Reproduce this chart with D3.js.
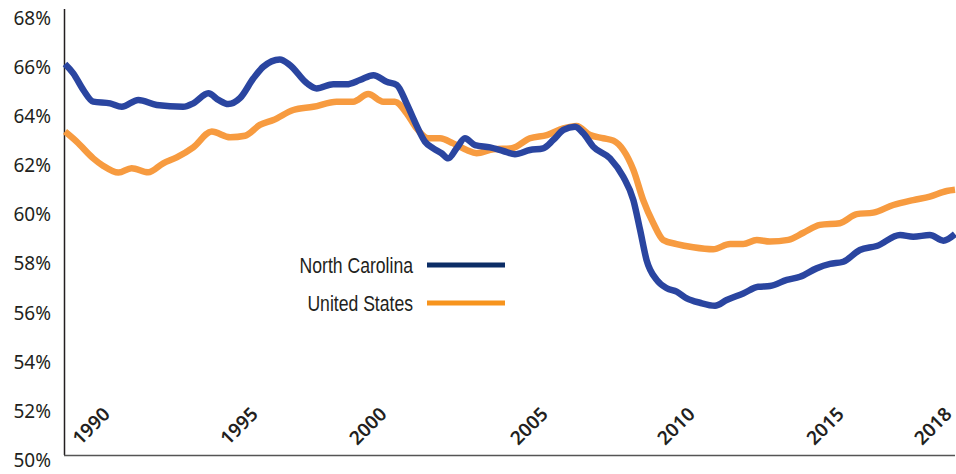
<!DOCTYPE html>
<html>
<head>
<meta charset="utf-8">
<script src="https://cdn.jsdelivr.net/npm/d3@7"></script>
<style>
  body { margin: 0; background: #fff; }
  svg { display: block; }
</style>
</head>
<body>
<svg id="chart"></svg>
<script>
// values (fractional years, percent)
var ncYears = [1990.00, 1990.27, 1990.60, 1990.92, 1991.47, 1991.85, 1992.39, 1992.99, 1993.85, 1994.18,
  1994.67, 1995.00, 1995.32, 1995.70, 1996.14, 1996.46, 1997.00, 1997.33, 1997.88, 1998.20,
  1998.74, 1999.18, 1999.61, 2000.05, 2000.48, 2000.81, 2001.13, 2001.40, 2001.73, 2002.00,
  2002.27, 2002.49, 2002.76, 2003.03, 2003.36, 2003.85, 2004.28, 2004.66, 2005.15, 2005.58,
  2005.91, 2006.24, 2006.62, 2006.89, 2007.21, 2007.76, 2008.19, 2008.52, 2008.74, 2008.95,
  2009.28, 2009.61, 2009.93, 2010.26, 2010.69, 2011.18, 2011.56, 2012.10, 2012.59, 2012.97,
  2013.52, 2013.95, 2014.49, 2014.93, 2015.36, 2015.90, 2016.45, 2017.21, 2017.64, 2018.18,
  2018.62, 2019.00];
var ncValues = [65.92, 65.54, 64.86, 64.39, 64.32, 64.18, 64.46, 64.25, 64.18, 64.32,
  64.73, 64.46, 64.29, 64.53, 65.34, 65.81, 66.11, 65.88, 65.14, 64.93,
  65.10, 65.10, 65.27, 65.47, 65.20, 65.07, 64.32, 63.57, 62.76, 62.49,
  62.29, 62.08, 62.49, 62.90, 62.62, 62.53, 62.38, 62.25, 62.42, 62.49,
  62.83, 63.24, 63.37, 63.10, 62.56, 62.08, 61.33, 60.38, 59.16, 57.94,
  57.13, 56.79, 56.65, 56.38, 56.20, 56.08, 56.31, 56.58, 56.85, 56.88,
  57.13, 57.26, 57.60, 57.78, 57.87, 58.35, 58.51, 58.96, 58.89, 58.96,
  58.73, 59.00];

var usYears = [1990.00, 1990.38, 1990.92, 1991.25, 1991.74, 1992.17, 1992.71, 1993.20, 1993.64, 1994.18,
  1994.78, 1995.38, 1995.87, 1996.35, 1996.79, 1997.44, 1998.09, 1998.85, 1999.39, 1999.88,
  2000.37, 2000.75, 2001.13, 2001.46, 2001.84, 2002.22, 2002.65, 2003.09, 2003.41, 2003.96,
  2004.56, 2005.15, 2005.70, 2006.24, 2006.67, 2007.11, 2007.54, 2007.87, 2008.19, 2008.52,
  2008.84, 2009.17, 2009.49, 2009.93, 2010.47, 2011.12, 2011.67, 2012.10, 2012.54, 2012.97,
  2013.57, 2014.06, 2014.60, 2015.25, 2015.80, 2016.34, 2016.99, 2017.64, 2018.18, 2018.73,
  2019.00];
var usValues = [63.17, 62.76, 62.08, 61.77, 61.50, 61.68, 61.51, 61.88, 62.12, 62.53,
  63.17, 62.94, 63.00, 63.44, 63.64, 64.05, 64.18, 64.39, 64.39, 64.70,
  64.39, 64.39, 63.92, 63.30, 62.90, 62.90, 62.69, 62.42, 62.29, 62.45,
  62.49, 62.90, 63.03, 63.30, 63.40, 63.03, 62.90, 62.80, 62.42, 61.61,
  60.38, 59.44, 58.76, 58.59, 58.46, 58.38, 58.59, 58.59, 58.76, 58.69,
  58.76, 59.05, 59.37, 59.44, 59.81, 59.87, 60.18, 60.38, 60.52, 60.75,
  60.80];

var tickLabels = ['1990', '1995', '2000', '2005', '2010', '2015', '2018'];
var tickAt = [1990.85, 1995.67, 1999.87, 2005.12, 2009.91, 2014.77, 2018.28];
var yTicks = [50, 52, 54, 56, 58, 60, 62, 64, 66, 68];

var seriesNames = ['North Carolina', 'United States'];

var W = 956, H = 474;
var margin = {top: 13, right: 955, bottom: 455, left: 65};

var svg = d3.select('#chart').attr('width', W).attr('height', H);

var x = d3.scaleLinear().domain([1990, 2019]).range([margin.left, margin.right]);
var y = d3.scaleLinear().domain([50, 68]).range([margin.bottom, margin.top]);

// y axis labels, no tick marks
var yAxis = svg.append('g')
    .attr('transform', 'translate(' + (margin.left - 14) + ',0)')
    .call(d3.axisLeft(y).tickValues(yTicks).tickSize(0).tickPadding(0)
      .tickFormat(function(d) { return d + '%'; }));
yAxis.select('.domain').remove();
yAxis.selectAll('text')
    .attr('dy', '0.6em')
    .style('font-family', '"Noto Sans", "Open Sans", sans-serif')
    .style('font-size', '19px')
    .style('fill', '#231f20');

// axis lines
svg.append('line')
    .attr('x1', margin.left - 0.5).attr('x2', margin.left - 0.5)
    .attr('y1', 9).attr('y2', margin.bottom)
    .attr('stroke', '#231f20').attr('stroke-width', 1.5);
svg.append('line')
    .attr('x1', margin.left - 1).attr('x2', margin.right)
    .attr('y1', margin.bottom + 0.5).attr('y2', margin.bottom + 0.5)
    .attr('stroke', '#555').attr('stroke-width', 1.5);

// x labels, rotated
svg.append('g').selectAll('text')
    .data(tickLabels)
  .enter().append('text')
    .attr('transform', function(d, i) { return 'translate(' + x(tickAt[i]) + ',426) rotate(-45)'; })
    .attr('text-anchor', 'middle')
    .attr('dy', '0.35em')
    .style('font-family', '"Noto Sans", "Open Sans", sans-serif')
    .style('font-size', '19px')
    .style('font-weight', 600)
    .style('fill', '#231f20')
    .text(function(d) { return d; });

var line = d3.line()
    .x(function(d) { return x(d[0]); })
    .y(function(d) { return y(d[1]); })
    .curve(d3.curveMonotoneX);

var usData = d3.zip(usYears, usValues);
var ncData = d3.zip(ncYears, ncValues);

svg.append('path')
    .datum(usData)
    .attr('d', line)
    .attr('fill', 'none')
    .attr('stroke', '#f79b40')
    .attr('stroke-width', 6.5);

svg.append('path')
    .datum(ncData)
    .attr('d', line)
    .attr('fill', 'none')
    .attr('stroke', '#2a45a0')
    .attr('stroke-width', 6.5);

// legend (condensed look by squeezing the text horizontally)
var legendColors = ['#0c2d66', '#f7941d'];
var legend = svg.append('g').selectAll('g')
    .data(seriesNames)
  .enter().append('g')
    .attr('transform', function(d, i) { return 'translate(0,' + (265 + i * 38) + ')'; });
legend.append('text')
    .attr('transform', 'translate(413,0) scale(0.8,1)')
    .attr('dy', '0.36em')
    .attr('text-anchor', 'end')
    .style('font-family', '"Liberation Sans", Arial, sans-serif')
    .style('font-size', '22px')
    .style('fill', '#231f20')
    .text(function(d) { return d; });
legend.append('line')
    .attr('x1', 427).attr('x2', 505)
    .attr('stroke', function(d, i) { return legendColors[i]; })
    .attr('stroke-width', 5);
</script>
</body>
</html>
